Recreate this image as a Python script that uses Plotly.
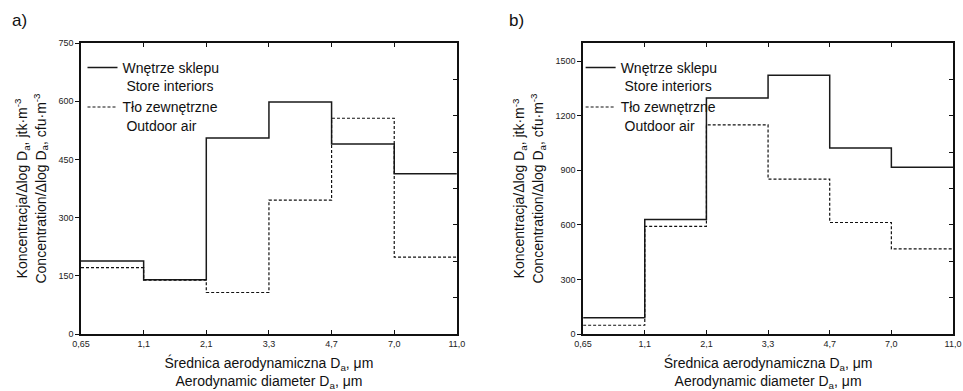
import plotly.graph_objects as go

# ---- data ----
edges = ["0,65", "1,1", "2,1", "3,3", "4,7", "7,0", "11,0"]
store_a = [188, 140, 505, 598, 490, 413]
outdoor_a = [171, 139, 107, 345, 556, 198]
store_b = [90, 630, 1297, 1423, 1022, 917]
outdoor_b = [48, 592, 1150, 852, 613, 468]
yticks_a = [0, 150, 300, 450, 600, 750]
yticks_b = [0, 300, 600, 900, 1200, 1500]

name_store = "Wnętrze sklepu<br> Store interiors"
name_out = "Tło zewnętrzne<br> Outdoor air"

FONT = "Liberation Sans, Arial, sans-serif"
OFF = 0  # body margin removed by post_script
W, H = 963 - OFF, 391 - OFF
# plot frame in page pixels
PL, PR_A, PL_B, PR, PT, PB = 81, 457, 583.3, 953.3, 43, 333.7
ML, MT = PL - OFF, PT - OFF
MR = W - (PR - OFF)
MB = H - (PB - OFF)
PW = W - ML - MR
PH = H - MT - MB


def step(vals):
    return vals + [vals[-1]]


solid = dict(color="#1a1a1a", width=1.5, shape="hv")
dashed = dict(color="#111111", width=1.2, shape="hv", dash="3px,2px")

fig = go.Figure()
fig.add_trace(go.Scatter(x=edges, y=step(store_a), mode="lines", line=solid,
                         name=name_store, xaxis="x", yaxis="y", legend="legend"))
fig.add_trace(go.Scatter(x=edges, y=step(outdoor_a), mode="lines", line=dashed,
                         name=name_out, xaxis="x", yaxis="y", legend="legend"))
fig.add_trace(go.Scatter(x=edges, y=step(store_b), mode="lines", line=solid,
                         name=name_store, xaxis="x2", yaxis="y2", legend="legend2"))
fig.add_trace(go.Scatter(x=edges, y=step(outdoor_b), mode="lines", line=dashed,
                         name=name_out, xaxis="x2", yaxis="y2", legend="legend2"))
# empty traces so the right-hand tick axes are drawn
fig.add_trace(go.Scatter(x=[], y=[], xaxis="x", yaxis="y3", showlegend=False))
fig.add_trace(go.Scatter(x=[], y=[], xaxis="x2", yaxis="y4", showlegend=False))

xtitle = "Średnica aerodynamiczna D<sub>a</sub>, μm<br>Aerodynamic diameter D<sub>a</sub>, μm"
ytitle = ("Koncentracja/Δlog D<sub>a</sub>, jtk·m<sup>-3</sup><br>"
          "Concentration/Δlog D<sub>a</sub>, cfu·m<sup>-3</sup>")

tickfont = dict(family=FONT, size=9, color="#222")
titlefont = dict(family=FONT, size=14, color="#111")


def xaxis(domain):
    return dict(domain=domain, type="category", categoryorder="array",
                categoryarray=edges, range=[0, 6], ticks="inside", ticklen=4,
                tickcolor="#111", mirror="ticks", showline=True, linecolor="#111",
                linewidth=1.5, showgrid=False, zeroline=False, tickfont=tickfont,
                ticklabeloverflow="allow",
                title=dict(text=xtitle, font=titlefont, standoff=14),
                automargin=False)


def yaxis(anchor, rng, ticks):
    return dict(domain=[0, 1], anchor=anchor, range=rng, tickvals=ticks,
                ticks="outside", ticklen=4, tickcolor="#111", showline=True,
                mirror=True, linecolor="#111", linewidth=1.5, showgrid=False,
                zeroline=False, tickfont=tickfont,
                title=dict(text=ytitle, font=titlefont, standoff=9),
                automargin=False)


def rightticks(over, anchor):
    return dict(overlaying=over, anchor=anchor, side="right", range=[0, 8],
                dtick=1, ticks="inside", ticklen=4, tickcolor="#111",
                showticklabels=False, showgrid=False, zeroline=False,
                showline=False)


def px_x(px):
    return (px - OFF - ML) / PW


def px_y(py):
    return 1 - (py - OFF - MT) / PH


xa = [0, px_x(PR_A)]
xb = [px_x(PL_B), 1]

legend_common = dict(yanchor="top", xanchor="left", bgcolor="rgba(0,0,0,0)",
                     font=dict(family=FONT, size=14, color="#111"),
                     valign="top", tracegroupgap=0, itemwidth=30)

fig.update_layout(
    width=W, height=H,
    margin=dict(l=ML, r=MR, t=MT, b=MB),
    plot_bgcolor="white", paper_bgcolor="white",
    font=dict(family=FONT, color="#111"),
    xaxis=xaxis(xa),
    yaxis=yaxis("x", [0, 750], yticks_a),
    xaxis2=xaxis(xb),
    yaxis2=yaxis("x2", [0, 1600], yticks_b),
    yaxis3=rightticks("y", "x"),
    yaxis4=rightticks("y2", "x2"),
    legend=dict(x=px_x(PL + 1.5), y=px_y(52), **legend_common),
    legend2=dict(x=px_x(PL_B - 2.5), y=px_y(52), **legend_common),
    annotations=[
        dict(text="a)", x=px_x(10), y=px_y(21), xref="paper", yref="paper",
             showarrow=False, xanchor="left", yanchor="middle",
             font=dict(family=FONT, size=17, color="#111")),
        dict(text="b)", x=px_x(507), y=px_y(21), xref="paper", yref="paper",
             showarrow=False, xanchor="left", yanchor="middle",
             font=dict(family=FONT, size=17, color="#111")),
    ],
)

fig.write_html(
    "out.html",
    config={"displayModeBar": False},
    post_script="document.body.style.margin='0';document.body.style.overflow='hidden';",
)
